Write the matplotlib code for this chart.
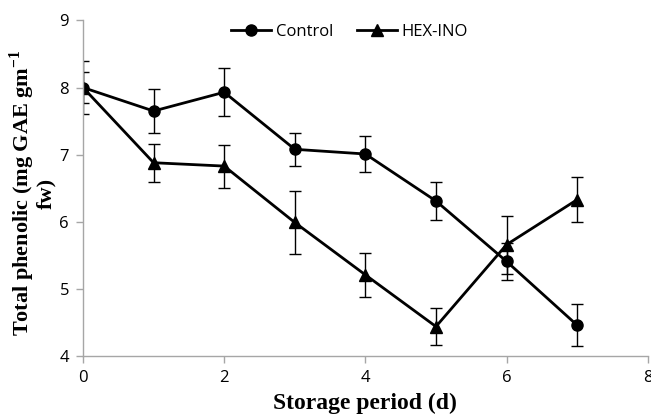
import matplotlib
matplotlib.use("Agg")
import matplotlib.pyplot as plt
from matplotlib.lines import Line2D

days = [0, 1, 2, 3, 4, 5, 6, 7]
control = [8.0, 7.65, 7.93, 7.08, 7.01, 6.31, 5.41, 4.46]
control_err = [0.39, 0.33, 0.36, 0.25, 0.27, 0.28, 0.28, 0.31]
hexino = [8.0, 6.88, 6.83, 5.99, 5.21, 4.44, 5.66, 6.33]
hexino_err = [0.23, 0.28, 0.32, 0.47, 0.33, 0.28, 0.43, 0.34]

plt.rcParams['mathtext.fontset'] = 'custom'
plt.rcParams['mathtext.rm'] = 'Liberation Serif:bold'
plt.rcParams['mathtext.bf'] = 'Liberation Serif:bold'

fig = plt.figure(figsize=(6.51, 4.16), dpi=100)
ax = fig.add_axes([0.1275, 0.144, 0.8675, 0.807])

ax.errorbar(days, control, yerr=control_err, color='black', marker='o', ms=8,
            lw=2, ecolor='black', elinewidth=1, capsize=4, capthick=1)
ax.errorbar(days, hexino, yerr=hexino_err, color='black', marker='^', ms=8,
            lw=2, ecolor='black', elinewidth=1, capsize=4, capthick=1)

ax.set_xlim(0, 8)
ax.set_ylim(4, 9)
ax.set_xticks([0, 2, 4, 6, 8])
ax.set_yticks([4, 5, 6, 7, 8, 9])

for s in ['top', 'right']:
    ax.spines[s].set_visible(False)
for s in ['left', 'bottom']:
    ax.spines[s].set_color('#a6a6a6')
    ax.spines[s].set_linewidth(1)
ax.tick_params(color='#a6a6a6', length=5, width=1, direction='out', pad=5)
for lab in ax.get_xticklabels() + ax.get_yticklabels():
    lab.set_fontfamily('Open Sans')
    lab.set_fontsize(12)

ax.set_xlabel('Storage period (d)', family='Liberation Serif', weight='bold',
              fontsize=17, labelpad=5)
ax.set_ylabel('Total phenolic (mg GAE gm$^{-1}$\nfw)', family='Liberation Serif',
              weight='bold', fontsize=16, linespacing=1.0, labelpad=2)
ax.yaxis.label.set_y(0.485)

handles = [Line2D([], [], color='black', lw=2, marker='o', ms=8),
           Line2D([], [], color='black', lw=2, marker='^', ms=8)]
ax.legend(handles, ['Control', 'HEX-INO'], loc='upper center',
          bbox_to_anchor=(0.472, 1.035), ncol=2, frameon=False,
          prop={'family': 'Open Sans', 'size': 12}, handlelength=2.4,
          columnspacing=1.4, handletextpad=0.3)

fig.savefig('out.png', dpi=100)
